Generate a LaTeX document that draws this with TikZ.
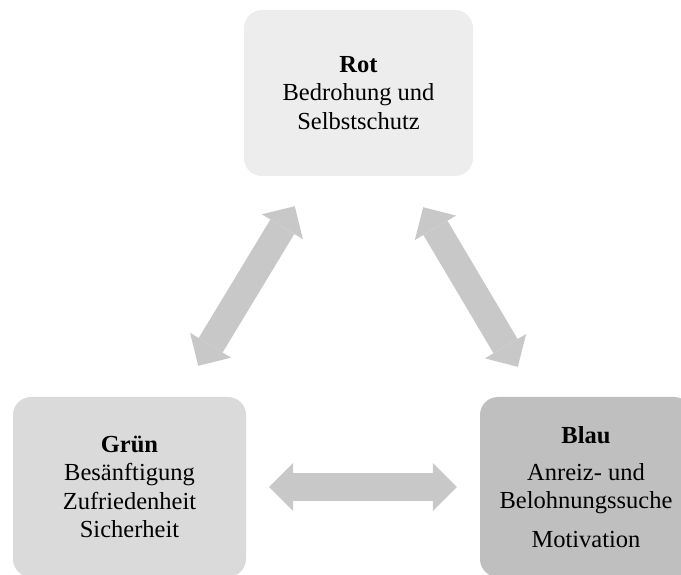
\documentclass[tikz,border=0pt]{standalone}
\usepackage{fontspec}
\setmainfont{Liberation Serif}
\usetikzlibrary{arrows.meta}
\definecolor{rotgrau}{HTML}{EDEDED}
\definecolor{gruengrau}{HTML}{DADADA}
\definecolor{blaugrau}{HTML}{BFBFBF}
\definecolor{pfeilgrau}{HTML}{C8C8C8}
\begin{document}
\begin{tikzpicture}[x=1pt, y=1pt,
	feld/.style={rounded corners=18pt, align=center, inner sep=0pt,
		font=\fontsize{24.5}{28.5}\selectfont},
	pfeil/.style={pfeilgrau, line width=28pt,
		{Triangle[length=24pt, width=48pt, line width=0pt]}-{Triangle[length=24pt, width=48pt, line width=0pt]}}]
		\useasboundingbox (0,0) rectangle (681,574);
		
		\node[feld, fill=rotgrau, minimum width=229pt, minimum height=166pt] (rot) at (358.5,481)
			{\textbf{Rot}\\Bedrohung und\\Selbstschutz};
		\node[feld, fill=gruengrau, minimum width=233pt, minimum height=180pt] (gruen) at (129.5,87)
			{\textbf{Grün}\\Besänftigung\\Zufriedenheit\\Sicherheit};
		\node[feld, fill=blaugrau, minimum width=212pt, minimum height=180pt] (blau) at (586,87)
			{\textbf{Blau}\\[8.5pt]Anreiz- und\\Belohnungssuche\\[10.5pt]Motivation};
		
		\draw[pfeil] ([shift={(-48pt,31pt)}]gruen.north east) -- ([shift={(51pt,-30pt)}]rot.south west);
		\draw[pfeil] ([shift={(-50pt,-31pt)}]rot.south east) -- ([shift={(38pt,30pt)}]blau.north west);
		\draw[pfeil, shorten <=23pt, shorten >=23pt] (gruen.east) -- (blau.west);
		\end{tikzpicture}
\end{document}
